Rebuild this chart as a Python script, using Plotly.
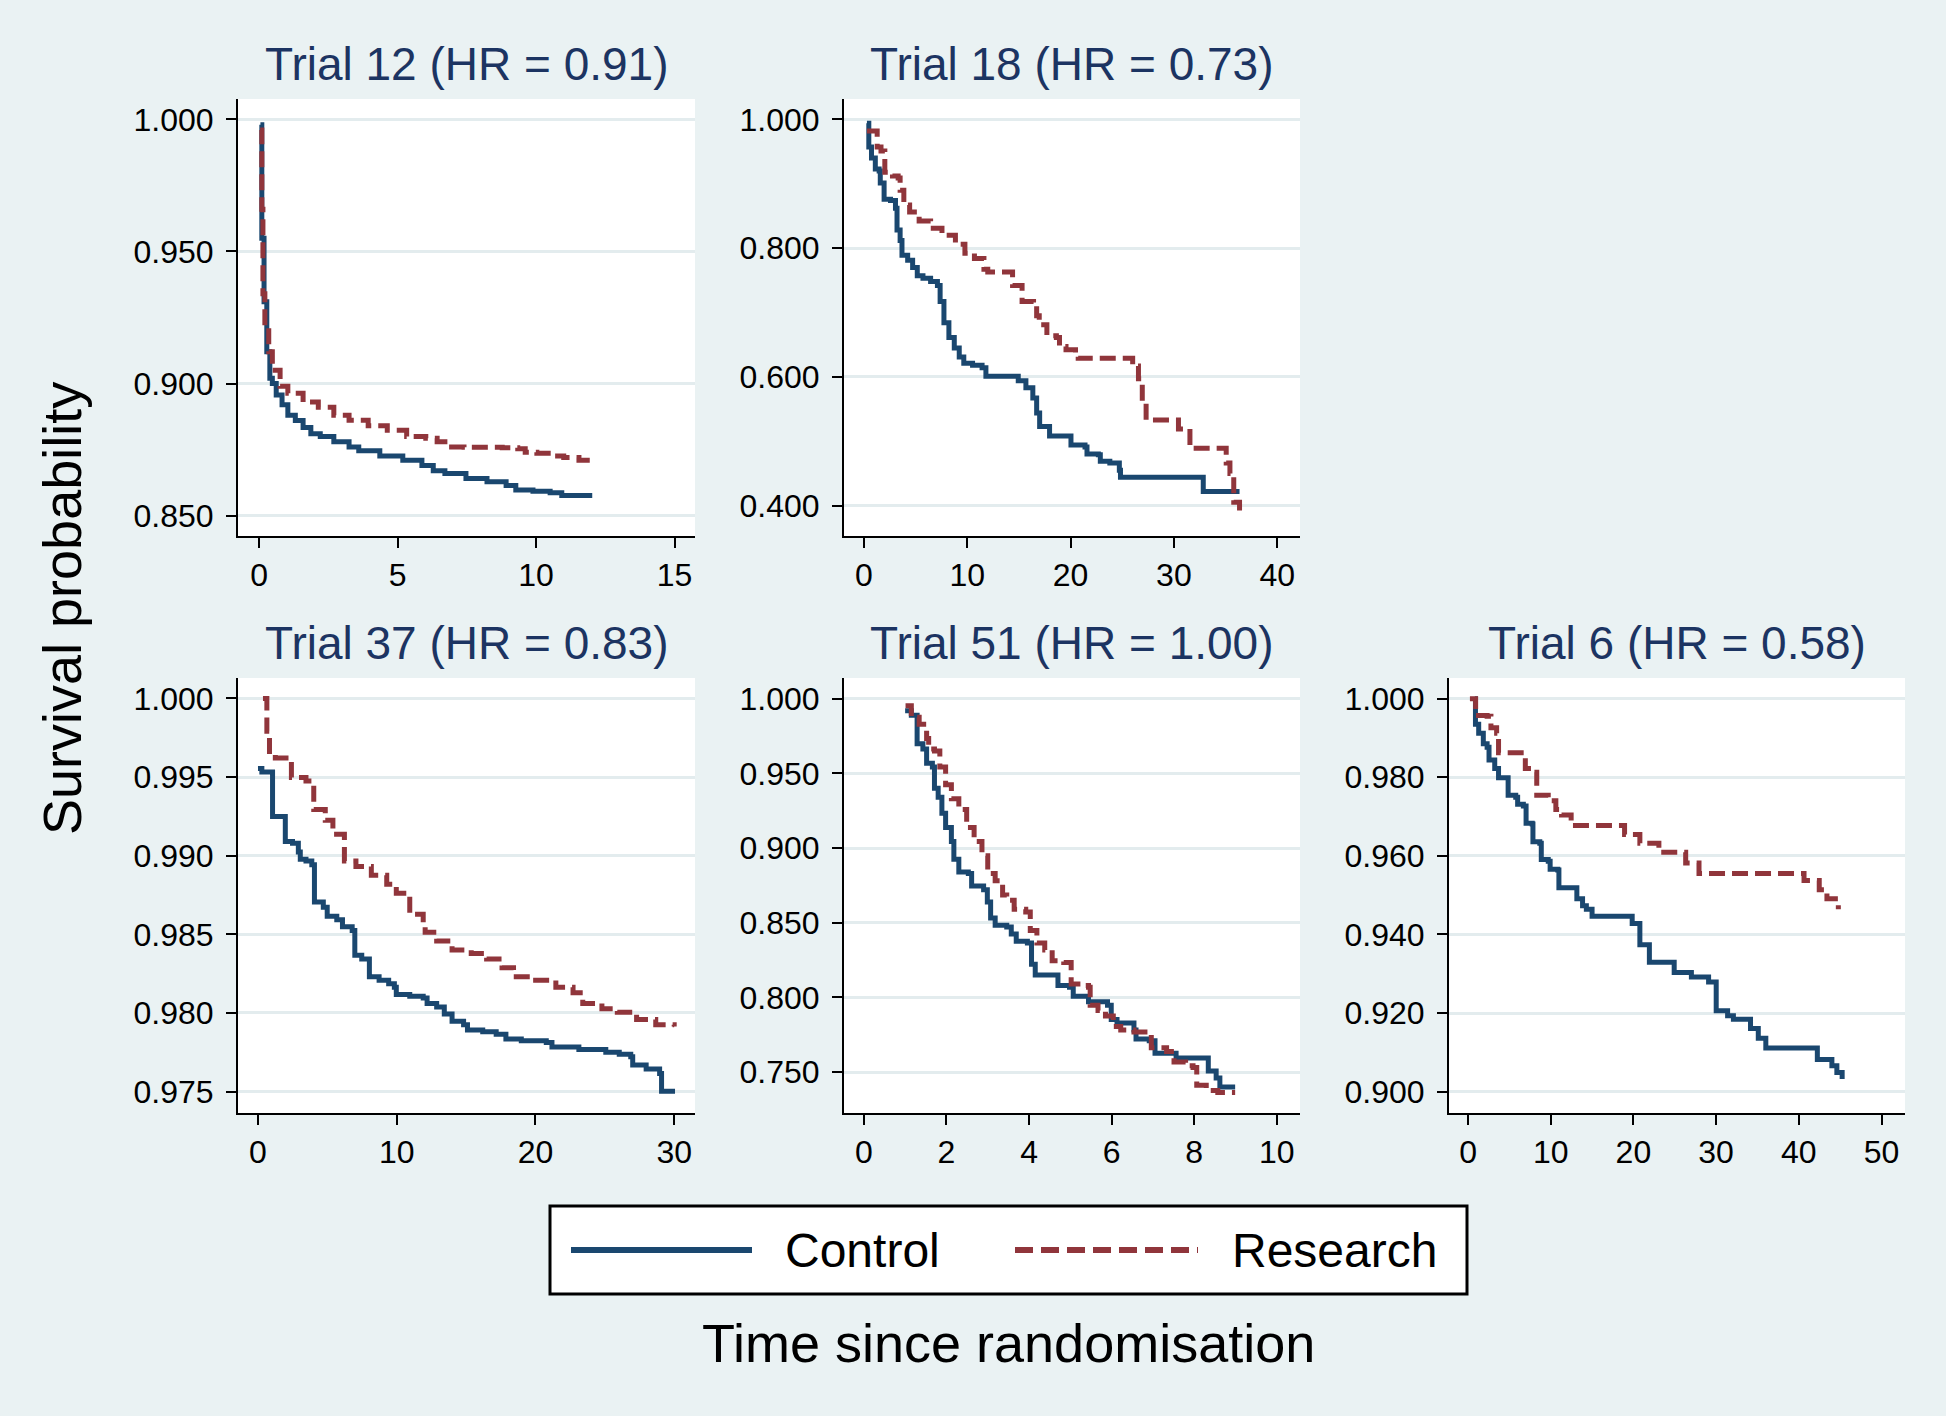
import plotly.graph_objects as go

W, H = 1946, 1416
BG = "#eaf2f3"
NAVY = "#1a476f"
MAROON = "#90353b"
TITLE_C = "#1c3462"
FONT = "Liberation Sans, Arial, sans-serif"

# Kaplan-Meier estimates (time, survival)
t12_ctrl_t = [0.05, 0.10, 0.18, 0.28, 0.39, 0.48, 0.62, 0.83, 1.04, 1.31, 1.59, 1.87, 2.21, 2.70, 3.25, 3.60,
              4.36, 5.19, 5.88, 6.29, 6.71, 7.19, 7.47, 8.23, 8.92, 9.27, 9.89, 10.51, 10.93, 12.03]
t12_ctrl_s = [0.998, 0.955, 0.931, 0.912, 0.902, 0.900, 0.8957, 0.892, 0.888, 0.886, 0.8834, 0.881, 0.880, 0.878,
              0.876, 0.8746, 0.8726, 0.871, 0.869, 0.867, 0.866, 0.866, 0.8641, 0.8628, 0.8614, 0.8597, 0.8592,
              0.8587, 0.8576, 0.8576]
t12_res_t = [0.04, 0.10, 0.14, 0.21, 0.35, 0.48, 0.76, 1.04, 1.59, 2.14, 2.70, 3.25, 3.94, 4.63, 5.33, 6.02,
             6.43, 6.85, 7.40, 8.78, 9.34, 9.61, 10.03, 10.44, 11.00, 11.55, 11.85]
t12_res_s = [0.996, 0.966, 0.934, 0.921, 0.912, 0.905, 0.899, 0.8963, 0.893, 0.891, 0.888, 0.8861, 0.884, 0.8823,
             0.880, 0.8793, 0.878, 0.876, 0.8759, 0.8757, 0.8753, 0.874, 0.8736, 0.8726, 0.872, 0.871, 0.8698]

t18_ctrl_t = [0.30, 0.48, 0.74, 1.11, 1.48, 1.59, 1.96, 2.58, 3.06, 3.21, 3.51, 3.69, 4.24, 4.72, 5.17, 5.72,
              6.46, 7.12, 7.38, 7.75, 8.23, 8.75, 9.23, 9.67, 10.52, 11.44, 11.81, 14.02, 14.94, 15.68, 16.35,
              16.72, 17.01, 17.97, 19.82, 20.04, 21.40, 21.59, 22.69, 22.88, 23.80, 24.72, 24.83, 32.66, 32.84,
              36.35]
t18_ctrl_s = [0.994, 0.957, 0.940, 0.923, 0.920, 0.901, 0.876, 0.874, 0.862, 0.828, 0.812, 0.789, 0.781, 0.770,
              0.757, 0.753, 0.748, 0.742, 0.717, 0.684, 0.661, 0.645, 0.631, 0.621, 0.618, 0.614, 0.601, 0.601,
              0.594, 0.583, 0.567, 0.544, 0.523, 0.508, 0.508, 0.494, 0.491, 0.480, 0.479, 0.469, 0.466, 0.455,
              0.444, 0.444, 0.422, 0.422]
t18_res_t = [0.30, 1.29, 1.66, 2.03, 2.77, 3.32, 3.51, 3.87, 4.43, 5.35, 6.46, 7.56, 8.86, 9.78, 10.70, 11.62,
             11.99, 14.02, 14.39, 15.31, 16.42, 16.72, 16.97, 17.71, 18.63, 18.93, 19.56, 20.48, 20.74, 25.46,
             26.01, 26.57, 26.94, 27.31, 29.89, 30.44, 31.55, 34.69, 35.06, 35.42, 35.79, 36.35]
t18_res_s = [0.982, 0.957, 0.951, 0.918, 0.912, 0.909, 0.890, 0.867, 0.856, 0.842, 0.831, 0.820, 0.806, 0.792,
             0.784, 0.767, 0.763, 0.763, 0.742, 0.717, 0.714, 0.695, 0.681, 0.664, 0.661, 0.647, 0.642, 0.636,
             0.629, 0.629, 0.617, 0.597, 0.561, 0.533, 0.533, 0.519, 0.489, 0.489, 0.466, 0.450, 0.405, 0.383]

t37_ctrl_t = [0.0, 0.28, 0.91, 1.05, 1.74, 1.97, 2.49, 2.91, 3.05, 3.46, 3.88, 4.07, 4.71, 4.99, 5.68, 6.09,
              6.79, 6.98, 7.48, 8.03, 8.73, 9.42, 9.83, 9.97, 10.94, 11.91, 12.19, 12.88, 13.43, 13.99, 14.82,
              15.10, 16.20, 17.17, 17.87, 18.98, 20.78, 21.19, 23.13, 25.07, 26.04, 26.87, 27.01, 27.98, 28.95,
              29.09, 30.06]
t37_ctrl_s = [0.99554, 0.99532, 0.99532, 0.99249, 0.99249, 0.99090, 0.99079, 0.99023, 0.98977, 0.98966, 0.98943,
              0.98706, 0.98672, 0.98615, 0.98593, 0.98548, 0.98525, 0.98367, 0.98344, 0.98231, 0.98208, 0.98186,
              0.98163, 0.98118, 0.98106, 0.98095, 0.98061, 0.98038, 0.97993, 0.97948, 0.97925, 0.97891, 0.97880,
              0.97864, 0.97835, 0.97824, 0.97812, 0.97783, 0.97767, 0.97751, 0.97738, 0.97722, 0.97670, 0.97643,
              0.97615, 0.97502, 0.97502]
t37_res_t = [0.36, 0.64, 0.83, 1.25, 2.02, 2.41, 3.46, 4.02, 4.85, 5.40, 6.23, 7.06, 8.17, 9.28, 9.97, 10.94,
             11.91, 12.05, 12.88, 13.99, 15.37, 16.48, 17.59, 18.42, 19.81, 21.47, 22.71, 23.41, 24.79, 25.90,
             27.29, 28.67, 30.0]
t37_res_s = [1.0, 0.99792, 0.99645, 0.99622, 0.99600, 0.99498, 0.99475, 0.99294, 0.99226, 0.99136, 0.98966,
             0.98932, 0.98876, 0.98819, 0.98762, 0.98627, 0.98570, 0.98514, 0.98457, 0.98400, 0.98378, 0.98344,
             0.98287, 0.98231, 0.98208, 0.98163, 0.98129, 0.98061, 0.98027, 0.98005, 0.97959, 0.97925, 0.97914]

t51_ctrl_t = [1.00, 1.15, 1.29, 1.43, 1.52, 1.66, 1.71, 1.80, 1.89, 1.98, 2.12, 2.18, 2.30, 2.53, 2.61, 2.90,
              2.99, 3.07, 3.18, 3.46, 3.57, 3.69, 3.96, 4.06, 4.15, 4.61, 4.70, 4.98, 5.07, 5.44, 5.90, 5.99,
              6.13, 6.54, 6.59, 6.91, 7.05, 7.37, 7.56, 8.20, 8.34, 8.53, 8.62, 8.99]
t51_ctrl_s = [0.9919, 0.9888, 0.9698, 0.9662, 0.9567, 0.9543, 0.940, 0.934, 0.9233, 0.9138, 0.9043, 0.8924,
              0.884, 0.8829, 0.8745, 0.8721, 0.8638, 0.8531, 0.8483, 0.8471, 0.8424, 0.8376, 0.8364, 0.8221,
              0.815, 0.815, 0.8079, 0.8067, 0.8007, 0.7971, 0.7948, 0.7852, 0.7829, 0.7781, 0.7721, 0.771,
              0.7626, 0.7626, 0.7595, 0.7595, 0.7507, 0.746, 0.740, 0.740]
t51_res_t = [1.01, 1.15, 1.34, 1.52, 1.57, 1.71, 1.84, 1.98, 2.12, 2.30, 2.49, 2.67, 2.86, 3.00, 3.18, 3.36,
             3.46, 3.64, 3.92, 4.03, 4.19, 4.38, 4.56, 4.84, 5.02, 5.25, 5.44, 5.48, 5.67, 5.85, 6.04, 6.22,
             6.54, 6.87, 6.96, 7.33, 7.51, 7.79, 7.97, 8.06, 8.29, 8.57, 8.99]
t51_res_s = [0.9952, 0.9876, 0.9829, 0.9733, 0.9662, 0.965, 0.9543, 0.9424, 0.9329, 0.9257, 0.9138, 0.9043,
             0.8948, 0.8829, 0.8781, 0.8686, 0.865, 0.859, 0.8571, 0.8448, 0.8364, 0.8317, 0.8245, 0.8233,
             0.809, 0.8079, 0.8067, 0.7948, 0.7912, 0.7876, 0.7805, 0.7781, 0.7769, 0.7757, 0.7662, 0.7638,
             0.7567, 0.7543, 0.7531, 0.7412, 0.7376, 0.7364, 0.7364]

t6_ctrl_t = [0.83, 0.90, 1.29, 1.85, 2.31, 2.54, 3.23, 3.69, 4.71, 4.85, 5.77, 6.00, 6.69, 7.02, 7.76, 7.85,
             8.68, 8.86, 9.70, 9.93, 10.85, 10.99, 12.56, 13.16, 13.85, 14.31, 15.00, 19.16, 19.85, 20.78, 21.70,
             21.93, 24.24, 24.93, 27.01, 29.09, 30.01, 31.39, 32.09, 33.01, 34.16, 35.1, 36.01, 42.01, 42.24,
             43.40, 44.0, 44.6, 45.24]
t6_ctrl_s = [1.000, 0.9935, 0.9912, 0.9885, 0.9876, 0.9844, 0.9822, 0.9799, 0.9799, 0.9754, 0.9749, 0.9731,
             0.9727, 0.9683, 0.9681, 0.9636, 0.9632, 0.9591, 0.9586, 0.9566, 0.9564, 0.9519, 0.9519, 0.9491,
             0.9473, 0.9464, 0.9446, 0.9446, 0.9428, 0.9374, 0.9374, 0.9329, 0.9329, 0.9303, 0.9292, 0.9279,
             0.9206, 0.9193, 0.9184, 0.9184, 0.9161, 0.9136, 0.9111, 0.9111, 0.9082, 0.9082, 0.9066, 0.9049,
             0.9032]
t6_res_t = [0.23, 0.92, 2.31, 2.77, 3.46, 3.69, 6.69, 6.93, 7.76, 8.31, 9.70, 10.62, 11.31, 12.47, 18.70, 18.93,
            20.78, 23.08, 26.32, 27.93, 39.24, 40.63, 42.47, 43.40, 44.78]
t6_res_s = [1.000, 0.9957, 0.9955, 0.9926, 0.9912, 0.9862, 0.9862, 0.9822, 0.9813, 0.9754, 0.9740, 0.9718,
            0.9704, 0.9677, 0.9677, 0.9654, 0.9632, 0.9609, 0.9582, 0.9555, 0.9555, 0.9537, 0.9514, 0.9491,
            0.9464]

titles = ["Trial 12 (HR = 0.91)", "Trial 18 (HR = 0.73)", "Trial 37 (HR = 0.83)",
          "Trial 51 (HR = 1.00)", "Trial 6 (HR = 0.58)"]
series = [(t12_ctrl_t, t12_ctrl_s, t12_res_t, t12_res_s),
          (t18_ctrl_t, t18_ctrl_s, t18_res_t, t18_res_s),
          (t37_ctrl_t, t37_ctrl_s, t37_res_t, t37_res_s),
          (t51_ctrl_t, t51_ctrl_s, t51_res_t, t51_res_s),
          (t6_ctrl_t, t6_ctrl_s, t6_res_t, t6_res_s)]
xticks = [[0, 5, 10, 15], [0, 10, 20, 30, 40], [0, 10, 20, 30], [0, 2, 4, 6, 8, 10], [0, 10, 20, 30, 40, 50]]
yticks = [[0.85, 0.90, 0.95, 1.0], [0.4, 0.6, 0.8, 1.0], [0.975, 0.98, 0.985, 0.99, 0.995, 1.0],
          [0.75, 0.8, 0.85, 0.9, 0.95, 1.0], [0.90, 0.92, 0.94, 0.96, 0.98, 1.0]]

# layout: plot boxes in pixels (left, top, right, bottom) and axis ranges
boxes = [(238, 99, 695, 536), (844, 99, 1300, 536), (238, 678, 695, 1113),
         (844, 678, 1300, 1113), (1449, 678, 1905, 1113)]
xranges = [[-0.76, 15.74], [-1.92, 42.2], [-1.44, 31.5], [-0.48, 10.56], [-2.3, 52.84]]
yranges = [[0.8423, 1.0077], [0.3527, 1.0317], [0.97364, 1.0013], [0.7226, 1.0138], [0.89457, 1.00525]]


def px(x, y):
    return x / W, 1 - y / H


fig = go.Figure()
layout = {}
annotations = []
for i in range(5):
    n = "" if i == 0 else str(i + 1)
    ct, cs, rt, rs = series[i]
    fig.add_trace(go.Scatter(x=ct, y=cs, mode="lines", line_shape="hv", name="Control",
                             line=dict(color=NAVY, width=5), xaxis="x" + n, yaxis="y" + n, showlegend=False))
    fig.add_trace(go.Scatter(x=rt, y=rs, mode="lines", line_shape="hv", name="Research",
                             line=dict(color=MAROON, width=5, dash="16px,7px"),
                             xaxis="x" + n, yaxis="y" + n, showlegend=False))
    l, t, r, b = boxes[i]
    common = dict(showline=True, linecolor="black", linewidth=2, ticks="outside", ticklen=10,
                  tickwidth=2, tickcolor="black", zeroline=False,
                  tickfont=dict(family=FONT, size=32, color="black"))
    layout["xaxis" + n] = dict(domain=[l / W, r / W], range=xranges[i], tickvals=xticks[i],
                               showgrid=False, anchor="y" + n, **common)
    layout["yaxis" + n] = dict(domain=[1 - b / H, 1 - t / H], range=yranges[i], tickvals=yticks[i],
                               tickformat=".3f", showgrid=True, gridcolor="#e3ecee", gridwidth=3,
                               anchor="x" + n, ticklabelstandoff=6, **common)
    tx, ty = px((l + r) / 2, t - 35)
    annotations.append(dict(text=titles[i], x=tx, y=ty, xref="paper", yref="paper", xanchor="center",
                            yanchor="middle", showarrow=False, font=dict(family=FONT, size=46, color=TITLE_C)))

# legend box drawn by hand (Stata-style long line samples)
lx0, ly0 = px(550, 1294)
lx1, ly1 = px(1467, 1206)
_, ly = px(0, 1250)
shapes = [
    dict(type="rect", xref="paper", yref="paper", x0=lx0, x1=lx1, y0=ly0, y1=ly1,
         fillcolor="white", line=dict(color="black", width=3)),
    dict(type="line", xref="paper", yref="paper", x0=571 / W, x1=752 / W, y0=ly, y1=ly,
         line=dict(color=NAVY, width=6)),
    dict(type="line", xref="paper", yref="paper", x0=1015 / W, x1=1198 / W, y0=ly, y1=ly,
         line=dict(color=MAROON, width=6, dash="18px,8px")),
]
annotations += [
    dict(text="Control", x=783 / W, y=ly, xref="paper", yref="paper", xanchor="left", yanchor="middle",
         showarrow=False, font=dict(family=FONT, size=48, color="black")),
    dict(text="Research", x=1230 / W, y=ly, xref="paper", yref="paper", xanchor="left", yanchor="middle",
         showarrow=False, font=dict(family=FONT, size=48, color="black")),
    dict(text="Time since randomisation", x=1008 / W, y=1 - 1343 / H, xref="paper", yref="paper",
         xanchor="center", yanchor="middle", showarrow=False, font=dict(family=FONT, size=54, color="black")),
    dict(text="Survival probability", x=62 / W, y=1 - 609 / H, xref="paper", yref="paper", textangle=-90,
         xanchor="center", yanchor="middle", showarrow=False, font=dict(family=FONT, size=54, color="black")),
]

fig.update_layout(width=W, height=H, margin=dict(l=0, r=0, t=0, b=0), paper_bgcolor=BG,
                  plot_bgcolor="white", annotations=annotations, shapes=shapes, **layout)
fig.write_html("out.html", config={"displayModeBar": False},
               post_script="document.body.style.margin='0px';")
